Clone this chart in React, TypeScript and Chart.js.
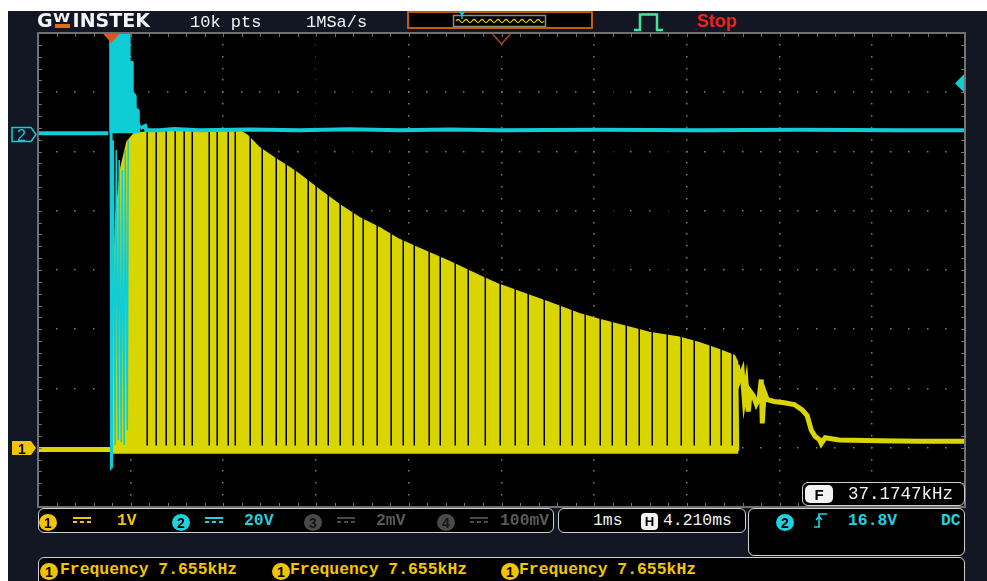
import React, { useEffect, useRef } from "react";
import { Chart, registerables } from "chart.js";

Chart.register(...registerables);

// ---------------- scope settings ----------------
const TIMEBASE_MS_PER_DIV = 1;
const H_POSITION_MS = 4.21;
const H_DIVS = 10;
const V_DIVS = 8;
const CH1_VOLTS_PER_DIV = 1;
const CH2_VOLTS_PER_DIV = 20;
const CH1_OFFSET_DIV = -3.0;
const CH2_OFFSET_DIV = 2.31;
const CH2_TRIGGER_LEVEL_V = 16.8;
const TRIGGER_TIME_MS = 0;

// ---------------- CH1 (yellow) ----------------
const ch1PreTimes = [-0.79, 0.011];
const ch1PreVolts = [-0.03, -0.03];

const ch1EnvTimes = [
  0.011, 0.022, 0.054, 0.108, 0.173, 0.248, 0.41, 0.949, 1.381, 1.467, 1.597,
  1.758, 1.92, 2.028, 2.244, 2.46, 2.675, 2.891, 3.107, 3.323, 3.646, 3.97,
  4.186, 4.401, 4.725, 5.049, 5.264, 5.588, 5.804, 6.127, 6.343, 6.559, 6.721,
  6.753, 6.764,
];
const ch1EnvVolts = [
  0, 2.5, 3.93, 4.73, 5.16, 5.3, 5.33, 5.35, 5.35, 5.27, 5.06, 4.89, 4.73, 4.61,
  4.35, 4.1, 3.88, 3.71, 3.51, 3.36, 3.14, 2.9, 2.75, 2.63, 2.45, 2.26, 2.16,
  2.03, 1.94, 1.86, 1.77, 1.65, 1.55, 1.45, -0.05,
];

const ch1LowTimes = [0.011, 6.764];
const ch1LowVolts = [-0.05, -0.05];

const ch1GapTimes = [
  0.388, 0.485, 0.593, 0.69, 0.787, 0.874, 1.057, 1.143, 1.262, 1.338, 1.499,
  1.629, 1.78, 1.888, 1.985, 2.125, 2.211, 2.341, 2.47, 2.611, 2.718, 2.869,
  3.02, 3.15, 3.269, 3.43, 3.549, 3.711, 3.851, 4.035, 4.196, 4.358, 4.498,
  4.671, 4.844, 4.973, 5.113, 5.275, 5.405, 5.556, 5.696, 5.836, 5.998, 6.149,
  6.289, 6.462, 6.58, 6.699,
];
const CH1_GAP_BOTTOM_V = 0.04;
const CH1_GAP_TOP_V = 9;

const ch1TailTimes = [
  6.753, 6.775, 6.807, 6.828, 6.85, 6.872, 6.893, 6.926, 6.958, 6.99, 7.012,
  7.023, 7.044, 7.077, 7.152, 7.26, 7.368, 7.454, 7.508, 7.551, 7.594, 7.638,
  7.659, 7.702, 7.853, 8.285, 8.716, 9.21,
];
const ch1TailVolts = [
  1.4, 1.15, 1.28, 0.84, 1.06, 0.61, 0.95, 0.88, 0.74, 0.84, 1.15, 0.41, 0.95,
  0.81, 0.78, 0.76, 0.73, 0.64, 0.54, 0.3, 0.19, 0.14, 0.07, 0.17, 0.13, 0.12,
  0.11, 0.11,
];

// ---------------- CH2 (cyan) ----------------
const ch2PreTimes = [-0.79, -0.032];
const ch2PreVolts = [0, 0];

const ch2BurstTimes = [-0.022, 0.194, 0.199, 0.227, 0.232, 0.259, 0.264, 0.291, 0.297, 0.313];
const ch2BurstVolts = [45, 45, 24, 24, 13.8, 12.8, 8.4, 7.8, 3.7, 2.0];

const ch2RingTimes = [
  -0.011, -0.005, 0.005, 0.011, 0.022, 0.043, 0.054, 0.076, 0.086, 0.108, 0.119,
  0.14, 0.151, 0.173, 0.183,
];
const ch2RingVolts = [
  45, -113.8, 45, -113.1, -2.4, -105.3, -5.7, -103.6, -9.1, -104.3, -12.5,
  -105.3, -5.7, -100.3, -2.4,
];

const ch2PostTimes = [
  0.313, 0.367, 0.378, 0.518, 0.68, 0.949, 1.489, 2.028, 2.567, 3.107, 3.646,
  4.186, 5.264, 6.343, 7.422, 8.501, 9.21,
];
const ch2PostVolts = [
  1.7, 2.4, 1.0, 1.0, 1.4, 1.0, 1.2, 1.0, 1.3, 1.0, 1.2, 1.0, 1.1, 1.0, 1.1, 1.0,
  1.0,
];

// ---------------- colours ----------------
const NAVY = "#121723";
const YELLOW = "#d9d500";
const CYAN = "#10ccd4";
const TXT_YELLOW = "#f2c600";
const TXT_CYAN = "#1fd2e0";
const GRAY_TXT = "#5a5a5a";
const MONO = '"Liberation Mono", "DejaVu Sans Mono", monospace';
const SANS = '"Liberation Sans", "DejaVu Sans", sans-serif';

const toDiv1 = (v: number) => v / CH1_VOLTS_PER_DIV + CH1_OFFSET_DIV;
const toDiv2 = (v: number) => v / CH2_VOLTS_PER_DIV + CH2_OFFSET_DIV;
const pts = (ts: number[], vs: number[], f: (v: number) => number) =>
  ts.map((t, i) => ({ x: t, y: f(vs[i]) }));

const scopePlugin = {
  id: "scopeGraticule",
  beforeDraw(chart: any) {
    const { ctx, chartArea: a } = chart;
    ctx.save();
    ctx.fillStyle = "#000";
    ctx.fillRect(a.left, a.top, a.width, a.height);
    ctx.restore();
  },
  beforeDatasetsDraw(chart: any) {
    const { ctx, chartArea: a } = chart;
    const dx = a.width / H_DIVS;
    const dy = a.height / V_DIVS;
    ctx.save();
    ctx.fillStyle = "#7c7c7c";
    for (let k = 1; k < H_DIVS; k++) {
      const x = a.left + k * dx;
      for (let j = 1; j < V_DIVS * 5; j++) {
        const y = a.top + (j * dy) / 5;
        ctx.fillRect(Math.round(x) - 1, Math.round(y) - 1, 1.5, 1.5);
      }
    }
    for (let k = 1; k < V_DIVS; k++) {
      const y = a.top + k * dy;
      for (let j = 1; j < H_DIVS * 5; j++) {
        const x = a.left + (j * dx) / 5;
        ctx.fillRect(Math.round(x) - 1, Math.round(y) - 1, 1.5, 1.5);
      }
    }
    ctx.restore();
  },
  afterDatasetsDraw(chart: any) {
    const { ctx, chartArea: a, scales } = chart;
    const dx = a.width / H_DIVS;
    const dy = a.height / V_DIVS;
    ctx.save();
    ctx.strokeStyle = "#707070";
    ctx.lineWidth = 2;
    ctx.strokeRect(a.left, a.top, a.width, a.height);
    ctx.lineWidth = 1;
    ctx.beginPath();
    for (let j = 1; j < H_DIVS * 5; j++) {
      const x = Math.round(a.left + (j * dx) / 5) + 0.5;
      ctx.moveTo(x, a.top);
      ctx.lineTo(x, a.top + 4);
      ctx.moveTo(x, a.bottom);
      ctx.lineTo(x, a.bottom - 4);
    }
    for (let j = 1; j < V_DIVS * 5; j++) {
      const y = Math.round(a.top + (j * dy) / 5) + 0.5;
      ctx.moveTo(a.left, y);
      ctx.lineTo(a.left + 4, y);
      ctx.moveTo(a.right, y);
      ctx.lineTo(a.right - 4, y);
    }
    ctx.stroke();

    const tx = scales.x.getPixelForValue(TRIGGER_TIME_MS);
    ctx.fillStyle = "#e4531c";
    ctx.beginPath();
    ctx.moveTo(tx - 8, a.top + 1);
    ctx.lineTo(tx + 8, a.top + 1);
    ctx.lineTo(tx, a.top + 10);
    ctx.closePath();
    ctx.fill();

    const cx = scales.x.getPixelForValue(H_POSITION_MS);
    ctx.strokeStyle = "#b3431a";
    ctx.lineWidth = 1.5;
    ctx.beginPath();
    ctx.moveTo(cx - 9, a.top + 1);
    ctx.lineTo(cx, a.top + 11);
    ctx.lineTo(cx + 9, a.top + 1);
    ctx.stroke();

    const ty = scales.y.getPixelForValue(toDiv2(CH2_TRIGGER_LEVEL_V));
    ctx.fillStyle = CYAN;
    ctx.beginPath();
    ctx.moveTo(a.right - 1, ty - 9);
    ctx.lineTo(a.right - 1, ty + 9);
    ctx.lineTo(a.right - 10, ty);
    ctx.closePath();
    ctx.fill();
    ctx.restore();
  },
};

const Txt = ({ x, y, size, color, children, weight = 400, family = MONO, ls = 0 }: any) => (
  <div
    style={{
      position: "absolute",
      left: x,
      top: y,
      fontFamily: family,
      fontSize: size,
      fontWeight: weight,
      color,
      lineHeight: 1,
      whiteSpace: "pre",
      letterSpacing: ls,
    }}
  >
    {children}
  </div>
);

const Badge = ({ x, y, bg, fg, n }: any) => (
  <div
    style={{
      position: "absolute",
      left: x,
      top: y,
      width: 18,
      height: 17,
      borderRadius: "50%",
      background: bg,
      color: fg,
      display: "flex",
      alignItems: "center",
      justifyContent: "center",
      fontFamily: SANS,
      fontWeight: 700,
      fontSize: 14,
      lineHeight: 1,
    }}
  >
    {n}
  </div>
);

const DcIcon = ({ x, y, color }: any) => (
  <svg style={{ position: "absolute", left: x, top: y }} width={18} height={7}>
    <rect x={0} y={0} width={18} height={2} fill={color} />
    <rect x={0} y={4} width={4} height={2} fill={color} />
    <rect x={7} y={4} width={4} height={2} fill={color} />
    <rect x={14} y={4} width={4} height={2} fill={color} />
  </svg>
);

const Box = ({ x, y, w, h }: any) => (
  <div
    style={{
      position: "absolute",
      left: x,
      top: y,
      width: w,
      height: h,
      boxSizing: "border-box",
      border: "1.5px solid #cfcfcf",
      borderRadius: 6,
      background: "#000",
    }}
  />
);

export default function App() {
  const ref = useRef<HTMLCanvasElement | null>(null);

  useEffect(() => {
    if (!ref.current) return;
    const gapData: any[] = [];
    ch1GapTimes.forEach((t) => {
      gapData.push({ x: t, y: toDiv1(CH1_GAP_BOTTOM_V) });
      gapData.push({ x: t, y: toDiv1(CH1_GAP_TOP_V) });
      gapData.push({ x: t, y: null });
    });
    const line = (data: any[], color: string, width: number, order: number, extra: any = {}) => ({
      data,
      borderColor: color,
      backgroundColor: color,
      borderWidth: width,
      pointRadius: 0,
      tension: 0,
      fill: false,
      order,
      clip: 0,
      spanGaps: false,
      ...extra,
    });
    const chart = new Chart(ref.current, {
      type: "line",
      data: {
        datasets: [
          line(pts(ch1EnvTimes, ch1EnvVolts, toDiv1), YELLOW, 2, 60, {
            fill: { value: toDiv1(-0.05) },
          }),
          line(gapData, "#000", 1.5, 50),
          line(pts(ch1LowTimes, ch1LowVolts, toDiv1), YELLOW, 6, 40),
          line(pts(ch1PreTimes, ch1PreVolts, toDiv1), YELLOW, 5, 40),
          line(pts(ch1TailTimes, ch1TailVolts, toDiv1), YELLOW, 5, 40),
          line(pts(ch2PreTimes, ch2PreVolts, toDiv2), CYAN, 4, 20),
          line(pts(ch2PostTimes, ch2PostVolts, toDiv2), CYAN, 4, 20),
          line(pts(ch2BurstTimes, ch2BurstVolts, toDiv2), CYAN, 2, 10, {
            fill: { value: toDiv2(0) },
          }),
          line(pts(ch2RingTimes, ch2RingVolts, toDiv2), CYAN, 1.5, 10),
        ] as any,
      },
      options: {
        animation: false,
        responsive: false,
        maintainAspectRatio: false,
        layout: { padding: 8 },
        plugins: { legend: { display: false }, tooltip: { enabled: false } },
        scales: {
          x: {
            type: "linear",
            min: H_POSITION_MS - (H_DIVS / 2) * TIMEBASE_MS_PER_DIV,
            max: H_POSITION_MS + (H_DIVS / 2) * TIMEBASE_MS_PER_DIV,
            display: false,
          },
          y: { type: "linear", min: -V_DIVS / 2, max: V_DIVS / 2, display: false },
        },
      } as any,
      plugins: [scopePlugin],
    });
    return () => chart.destroy();
  }, []);

  return (
    <div
      style={{
        position: "absolute",
        left: 0,
        top: 0,
        width: 987,
        height: 581,
        overflow: "hidden",
        background: "#fff",
      }}
    >
      <div
        style={{ position: "absolute", left: 8, top: 11, width: 979, height: 570, background: NAVY }}
      />
      <canvas
        ref={ref}
        width={943}
        height={490}
        style={{ position: "absolute", left: 30, top: 25, width: 943, height: 490 }}
      />

      {/* header */}
      <div
        style={{
          position: "absolute",
          left: 37,
          top: 11,
          display: "flex",
          alignItems: "flex-start",
          fontFamily: '"DejaVu Sans", sans-serif',
          fontWeight: 700,
          fontSize: 19,
          lineHeight: 1,
          color: "#f4f4f4",
          whiteSpace: "pre",
        }}
      >
        <span>G</span>
        <span
          style={{
            display: "inline-flex",
            flexDirection: "column",
            alignItems: "center",
            marginLeft: 2,
            marginRight: 3,
            width: 15,
          }}
        >
          <span style={{ fontSize: 12, lineHeight: "10px", marginTop: 2, transform: "scaleX(1.3)" }}>W</span>
          <span style={{ width: 15, height: 4, background: "#d8701c", marginTop: 1 }} />
        </span>
        <span>INSTEK</span>
      </div>
      <Txt x={190} y={14} size={17} color="#f2f2f2">10k pts</Txt>
      <Txt x={306} y={14} size={17} color="#f2f2f2">1MSa/s</Txt>
      <div
        style={{
          position: "absolute",
          left: 407,
          top: 11,
          width: 186,
          height: 18,
          boxSizing: "border-box",
          border: "2px solid #c45c0c",
          background: "#000",
        }}
      />
      <svg style={{ position: "absolute", left: 452, top: 11 }} width={95} height={18}>
        <rect x={1.5} y={4.5} width={92} height={11} fill="none" stroke="#8a8a8a" strokeWidth={1.5} />
        <path
          d="M4 10 q2 -3 4 0 t4 0 t4 0 t4 0 t4 0 t4 0 t4 0 t4 0 t4 0 t4 0 t4 0 t4 0 t4 0 t4 0 t4 0 t4 0 t4 0 t4 0 t4 0 t4 0 t4 0 t4 0"
          fill="none"
          stroke="#d9c400"
          strokeWidth={1.3}
        />
        <path d="M7 1 L13 1 L10 5 Z" fill={CYAN} />
        <rect x={9.3} y={4} width={1.4} height={4} fill={CYAN} />
      </svg>
      <svg style={{ position: "absolute", left: 633, top: 12 }} width={32} height={20}>
        <polyline
          points="1,18 7,18 7,2.5 24,2.5 24,18 30,18"
          fill="none"
          stroke="#45e29a"
          strokeWidth={2.5}
        />
        <path d="M10 3 v-2 M13 3 v-2 M16 3 v-2 M19 3 v-2 M22 3 v-2" stroke="#45e29a" strokeWidth={1.3} />
      </svg>
      <Txt x={697} y={12} size={18} weight={700} family={SANS} color="#ff1c1c">Stop</Txt>

      {/* channel markers */}
      <svg style={{ position: "absolute", left: 11, top: 126 }} width={28} height={18}>
        <polygon points="1,1.5 20,1.5 25,8.5 20,15.5 1,15.5" fill={NAVY} stroke={CYAN} strokeWidth={1.5} />
        <text x={6} y={14.5} fontFamily={SANS} fontSize={16} fill={CYAN}>2</text>
      </svg>
      <svg style={{ position: "absolute", left: 11, top: 440 }} width={28} height={17}>
        <polygon points="1,1 20,1 25,8 20,15 1,15" fill="#f2c400" />
        <text x={7} y={13.5} fontFamily={SANS} fontWeight={700} fontSize={14} fill="#000">1</text>
      </svg>

      {/* frequency counter */}
      <Box x={802} y={482} w={163} h={24} />
      <div
        style={{
          position: "absolute",
          left: 805,
          top: 485,
          width: 28,
          height: 18,
          borderRadius: 5,
          background: "#f2f2f2",
          color: "#000",
          display: "flex",
          alignItems: "center",
          justifyContent: "center",
          fontFamily: SANS,
          fontWeight: 700,
          fontSize: 15,
          lineHeight: 1,
        }}
      >
        F
      </div>
      <Txt x={848} y={486} size={17.5} color="#f2f2f2">37.1747kHz</Txt>

      {/* channel info row */}
      <Box x={38} y={508} w={516} h={25} />
      <Badge x={39} y={514} bg="#f2c400" fg="#000" n="1" />
      <DcIcon x={73} y={517} color={TXT_YELLOW} />
      <Txt x={117} y={513} size={16.4} weight={700} color={TXT_YELLOW}>1V</Txt>
      <Badge x={172} y={514} bg={TXT_CYAN} fg="#000" n="2" />
      <DcIcon x={205} y={517} color={TXT_CYAN} />
      <Txt x={244} y={513} size={16.4} weight={700} color={TXT_CYAN}>20V</Txt>
      <Badge x={304} y={514} bg="#4a4a4a" fg="#151515" n="3" />
      <DcIcon x={337} y={517} color="#4a4a4a" />
      <Txt x={376} y={513} size={16.4} weight={700} color={GRAY_TXT}>2mV</Txt>
      <Badge x={437} y={514} bg="#4a4a4a" fg="#151515" n="4" />
      <DcIcon x={470} y={517} color="#4a4a4a" />
      <Txt x={500} y={513} size={16.4} weight={700} color={GRAY_TXT}>100mV</Txt>

      <Box x={558} y={508} w={188} h={25} />
      <Txt x={593} y={513} size={16.4} color="#f2f2f2">1ms</Txt>
      <div
        style={{
          position: "absolute",
          left: 641,
          top: 513,
          width: 17,
          height: 17,
          borderRadius: 4,
          background: "#f2f2f2",
          color: "#000",
          display: "flex",
          alignItems: "center",
          justifyContent: "center",
          fontFamily: SANS,
          fontWeight: 700,
          fontSize: 13,
          lineHeight: 1,
        }}
      >
        H
      </div>
      <Txt x={663} y={513} size={16.4} color="#f2f2f2">4.210ms</Txt>

      <Box x={748} y={508} w={217} h={48} />
      <Badge x={776} y={514} bg={TXT_CYAN} fg="#000" n="2" />
      <svg style={{ position: "absolute", left: 813, top: 512 }} width={16} height={17}>
        <polyline points="1,15 6,15 6,2 14,2" fill="none" stroke={TXT_CYAN} strokeWidth={1.6} />
        <polyline points="3,8 6,4.5 9,8" fill="none" stroke={TXT_CYAN} strokeWidth={1.6} />
      </svg>
      <Txt x={848} y={513} size={16.4} weight={700} color={TXT_CYAN}>16.8V</Txt>
      <Txt x={941} y={513} size={16.4} weight={700} color={TXT_CYAN}>DC</Txt>

      {/* measurement row */}
      <Box x={38} y={557} w={927} h={40} />
      <Badge x={40} y={563} bg="#f2c400" fg="#000" n="1" />
      <Txt x={60} y={562} size={16.4} weight={700} color={TXT_YELLOW}>Frequency 7.655kHz</Txt>
      <Badge x={272} y={563} bg="#f2c400" fg="#000" n="1" />
      <Txt x={290} y={562} size={16.4} weight={700} color={TXT_YELLOW}>Frequency 7.655kHz</Txt>
      <Badge x={501} y={563} bg="#f2c400" fg="#000" n="1" />
      <Txt x={519} y={562} size={16.4} weight={700} color={TXT_YELLOW}>Frequency 7.655kHz</Txt>
    </div>
  );
}
